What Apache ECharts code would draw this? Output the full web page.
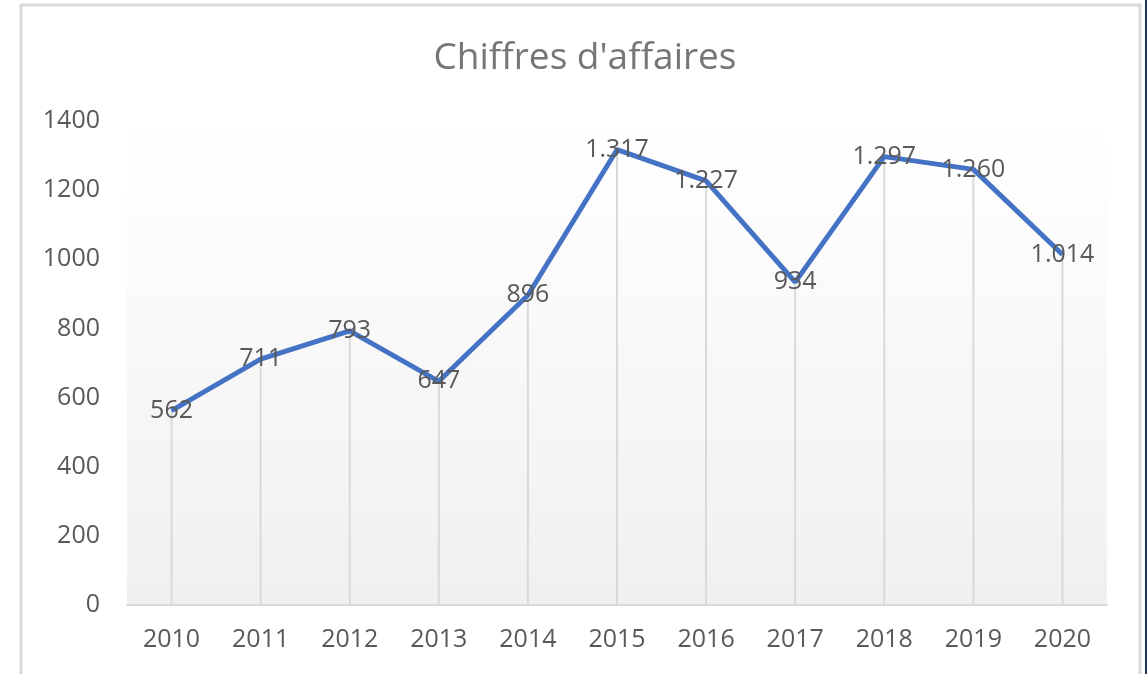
<!DOCTYPE html>
<html>
<head>
	<meta charset="utf-8">
	<title>Chiffres d'affaires</title>
	<script type="text/javascript" src="https://cdn.jsdelivr.net/npm/echarts@6/dist/echarts.min.js"></script>
	<style>
		html, body { margin: 0; padding: 0; background: #fff; }
	</style>
</head>
<body>
<div id="main" style="width: 1147px; height: 674px"></div>

<script type="text/javascript">
var years = ['2010', '2011', '2012', '2013', '2014', '2015', '2016', '2017', '2018', '2019', '2020'];
var chiffres = [562, 711, 793, 647, 896, 1317, 1227, 934, 1297, 1260, 1014];
var yTicks = [0, 200, 400, 600, 800, 1000, 1200, 1400];

var font = '"Open Sans", "Noto Sans", sans-serif';

// 1317 -> "1.317"
function sep(v) {
    return String(v).replace(/\B(?=(\d{3})+(?!\d))/g, '.');
}

var myChart = echarts.init(document.getElementById('main'));

option = {
    backgroundColor: '#ffffff',
    animation: false,
    title: {
        text: "Chiffres d'affaires",
        left: 580,
        textAlign: 'center',
        top: 35,
        textStyle: {
            fontFamily: font,
            fontSize: 37,
            fontWeight: 'normal',
            color: '#767676'
        }
    },
    graphic: [
        {
            type: 'rect',
            shape: {x: 21, y: 5, width: 1119, height: 680},
            style: {fill: 'none', stroke: '#d9d9d9', lineWidth: 3},
            silent: true
        },
        {
            type: 'rect',
            shape: {x: 1145, y: 0, width: 2, height: 674},
            style: {fill: '#1f3b57'},
            silent: true
        }
    ],
    grid: {
        left: 127,
        right: 40,
        top: 121,
        bottom: 69,
        show: true,
        borderWidth: 0,
        backgroundColor: {
            type: 'linear', x: 0, y: 0, x2: 0, y2: 1,
            colorStops: [
                {offset: 0, color: '#ffffff'},
                {offset: 0.1, color: '#fefefe'},
                {offset: 1, color: '#f0f0f0'}
            ]
        }
    },
    xAxis: {
        type: 'category',
        data: years,
        boundaryGap: true,
        axisLine: {lineStyle: {color: '#d9d9d9', width: 2}},
        axisTick: {show: false},
        axisLabel: {
            margin: 22,
            fontFamily: font,
            fontSize: 25,
            color: '#595959'
        }
    },
    yAxis: {
        type: 'value',
        min: yTicks[0],
        max: yTicks[yTicks.length - 1],
        interval: 200,
        axisLine: {show: false},
        axisTick: {show: false},
        splitLine: {show: false},
        axisLabel: {
            margin: 27,
            fontFamily: font,
            fontSize: 25,
            color: '#595959',
            formatter: function (v) {
                return String(v);
            }
        }
    },
    series: [
        {
            // lignes de projection
            type: 'bar',
            data: chiffres,
            barWidth: 2,
            itemStyle: {color: '#d9d9d9'},
            silent: true,
            z: 1
        },
        {
            type: 'line',
            data: chiffres,
            symbol: 'circle',
            symbolSize: 1,
            showSymbol: true,
            itemStyle: {color: '#4472c4'},
            lineStyle: {color: '#4472c4', width: 5},
            label: {
                show: true,
                position: 'inside',
                offset: [0, 1],
                fontFamily: font,
                fontSize: 25,
                color: '#595959',
                formatter: function (p) {
                    return sep(p.value);
                }
            },
            labelLayout: {hideOverlap: false},
            z: 3
        }
    ]
};

myChart.setOption(option);
</script>
</body>
</html>
